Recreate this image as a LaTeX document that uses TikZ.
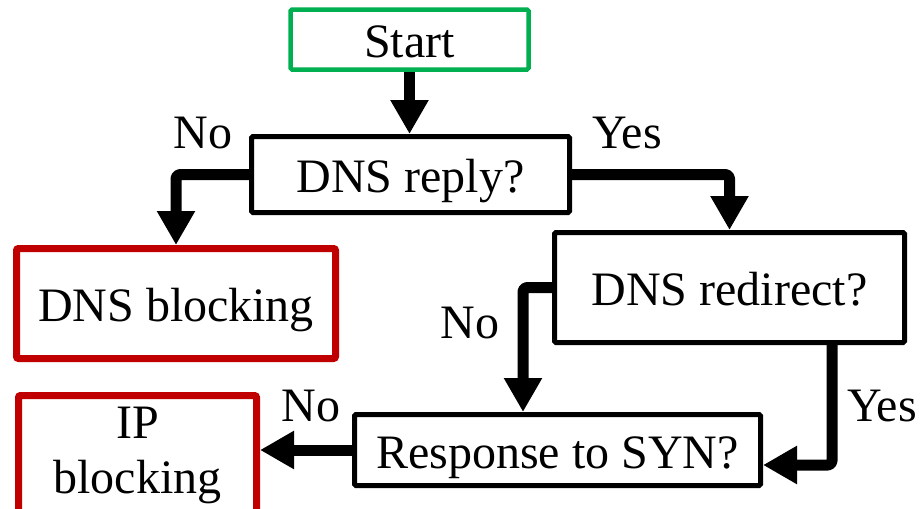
\documentclass[tikz,border=0pt]{standalone}
\usepackage{fontspec}
\setmainfont{Liberation Serif}
\usetikzlibrary{arrows.meta}
\definecolor{startgreen}{RGB}{0,176,80}
\definecolor{blockred}{RGB}{192,0,0}
\begin{document}
\begin{tikzpicture}[x=1pt,y=-1pt,
  every node/.style={font=\fontsize{48}{55}\selectfont},
  oneline/.style={text height=36pt, text depth=0pt},
  startbox/.style={draw=startgreen, line width=4.5pt, rounded corners=1.5pt, inner sep=0pt, oneline},
  stepbox/.style={draw=black, line width=5pt, rounded corners=1.5pt, inner sep=0pt, oneline},
  endbox/.style={draw=blockred, line width=7pt, rounded corners=2pt, inner sep=0pt},
  flow/.style={line width=11pt, rounded corners=4pt, line join=round,
    -{Triangle[length=34pt,width=36pt]}},
  lbl/.style={inner sep=0pt}]
  \useasboundingbox (0,0) rectangle (922,509);
  \clip (0,0) rectangle (922,509);

  % boxes
  \node[startbox, minimum width=238pt, minimum height=60pt] (start) at (409.5,39.5) {Start};
  \node[stepbox, minimum width=318pt, minimum height=76pt] (reply) at (410.5,174.5) {DNS reply?};
  \node[endbox, oneline, minimum width=319pt, minimum height=110pt] (dnsblk) at (176,303.5) {DNS blocking};
  \node[stepbox, minimum width=350pt, minimum height=110pt] (redirect) at (729.5,287.5) {DNS redirect?};
  \node[stepbox, minimum width=406pt, minimum height=71pt] (syn) at (557.5,450) {Response to SYN?};
  \node[endbox, minimum width=238pt, minimum height=119pt, align=center] (ipblk) at (137.5,455) {IP\\blocking};

  % connectors
  \draw[flow] (start.south) -- (start.south |- reply.north);
  \draw[flow] (reply.west) -| (dnsblk.north);
  \draw[flow] (reply.east) -| (redirect.north);
  \coordinate (nobend) at (523,287.5);
  \draw[flow] (redirect.west) -- (nobend) -- (nobend |- syn.north);
  \coordinate (yesbend) at (832,465);
  \draw[flow] (yesbend |- redirect.south) -- (yesbend) -- (yesbend -| syn.east);
  \draw[flow] (syn.west) -- (syn.west -| ipblk.east);

  % branch labels
  \node[lbl] (noreply) at (203,133) {No};
  \node[lbl] (yesreply) at (627,133) {Yes};
  \node[lbl] (noredirect) at (470,323) {No};
  \node[lbl] (yesredirect) at (882,406) {Yes};
  \node[lbl] (nosyn) at (311,406) {No};
\end{tikzpicture}
\end{document}
